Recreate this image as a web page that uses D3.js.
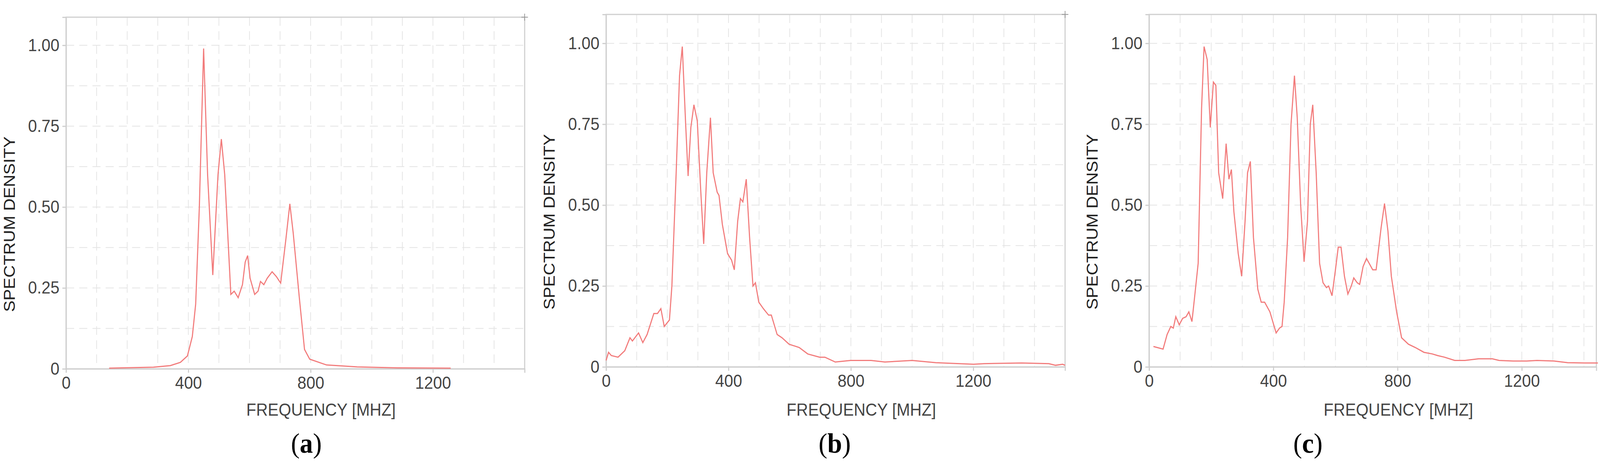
<!DOCTYPE html>
<html><head><meta charset="utf-8">
<script src="https://cdn.jsdelivr.net/npm/d3@7"></script>
<style>html,body{margin:0;padding:0;overflow:hidden;background:#fff}svg{display:block;width:100vw;height:100vh}</style>
</head><body>
<svg id="chart" viewBox="0 0 4361 1217" preserveAspectRatio="none"></svg>
<script>
// [MHz, density] pairs
const seriesA = [[141,0.002],[286,0.005],[341,0.01],[374,0.02],[397,0.04],[413,0.1],[424,0.2],[436,0.5],[450,0.99],[463,0.6],[480,0.29],[497,0.6],[508,0.71],[519,0.6],[539,0.23],[550,0.24],[563,0.22],[577,0.26],[586,0.33],[594,0.35],[602,0.28],[617,0.23],[628,0.24],[636,0.27],[647,0.26],[658,0.28],[674,0.3],[688,0.285],[702,0.265],[719,0.4],[732,0.51],[743,0.42],[763,0.22],[780,0.06],[797,0.03],[852,0.012],[952,0.006],[1086,0.003],[1258,0.002]];
const seriesB = [[0,0.02],[8,0.045],[17,0.035],[39,0.03],[61,0.05],[78,0.09],[86,0.08],[106,0.105],[120,0.075],[134,0.1],[156,0.165],[168,0.165],[179,0.18],[190,0.125],[207,0.145],[215,0.25],[229,0.6],[240,0.9],[249,0.99],[260,0.75],[268,0.59],[277,0.74],[287,0.81],[298,0.76],[309,0.55],[319,0.38],[329,0.6],[341,0.77],[350,0.6],[363,0.54],[369,0.53],[380,0.44],[397,0.35],[410,0.33],[419,0.3],[430,0.45],[439,0.52],[447,0.51],[458,0.58],[469,0.4],[480,0.25],[488,0.26],[499,0.2],[514,0.18],[531,0.16],[540,0.16],[559,0.1],[575,0.09],[598,0.07],[631,0.06],[659,0.04],[698,0.03],[715,0.03],[749,0.015],[799,0.02],[866,0.02],[911,0.015],[1000,0.02],[1078,0.013],[1201,0.008],[1235,0.01],[1358,0.012],[1447,0.01],[1469,0.005],[1492,0.008],[1500,0.005]];
const seriesC = [[14,0.063],[45,0.055],[58,0.1],[70,0.125],[78,0.12],[86,0.155],[97,0.13],[108,0.15],[119,0.155],[128,0.17],[138,0.14],[147,0.22],[158,0.32],[169,0.8],[177,0.99],[187,0.95],[197,0.74],[207,0.88],[215,0.87],[224,0.6],[237,0.52],[248,0.69],[257,0.58],[265,0.61],[273,0.48],[287,0.35],[298,0.28],[309,0.45],[317,0.6],[326,0.635],[336,0.4],[350,0.24],[361,0.2],[372,0.2],[389,0.17],[409,0.105],[420,0.12],[428,0.125],[435,0.2],[446,0.4],[457,0.75],[468,0.9],[477,0.77],[488,0.5],[499,0.325],[510,0.45],[519,0.75],[527,0.81],[538,0.6],[549,0.32],[560,0.26],[571,0.245],[578,0.25],[589,0.22],[600,0.3],[609,0.37],[618,0.37],[629,0.28],[640,0.225],[651,0.25],[659,0.275],[670,0.26],[678,0.255],[689,0.31],[700,0.335],[720,0.3],[731,0.3],[747,0.43],[758,0.505],[769,0.42],[780,0.28],[797,0.17],[813,0.09],[835,0.07],[857,0.06],[885,0.045],[912,0.04],[929,0.035],[951,0.03],[984,0.02],[1017,0.02],[1061,0.025],[1105,0.025],[1127,0.02],[1172,0.018],[1216,0.018],[1249,0.02],[1304,0.018],[1348,0.013],[1403,0.012],[1445,0.012]];
const xTicks = [0, 400, 800, 1200];
const yTicks = [0, 0.25, 0.5, 0.75, 1];
const panelLabels = ["a", "b", "c"];

const panels = [
  {data: seriesA, left: 180, right: 1430, top: 44, bottom: 945, xMax: 1500, cross: true, labelX: 835},
  {data: seriesB, left: 1652, right: 2903, top: 37, bottom: 940, xMax: 1500, cross: true, labelX: 2275},
  {data: seriesC, left: 3132, right: 4351, top: 37, bottom: 940, xMax: 1440, cross: false, labelX: 3565}
];

const svg = d3.select("#chart");
const font = "Liberation Sans, Arial, sans-serif";

panels.forEach((p, i) => {
  const x = d3.scaleLinear().domain([0, p.xMax]).range([p.left, p.right]);
  const yMax = (p.bottom - p.top) / 829;
  const y = d3.scaleLinear().domain([0, yMax]).range([p.bottom, p.top]);
  const g = svg.append("g");

  // dashed grid
  g.append("g").selectAll("line").data(d3.range(100, p.xMax, 100)).join("line")
    .attr("x1", d => x(d)).attr("x2", d => x(d)).attr("y1", p.top).attr("y2", p.bottom)
    .attr("stroke", "#e4e4e4").attr("stroke-width", 2).attr("stroke-dasharray", "22,14");
  g.append("g").selectAll("line").data(d3.range(0.125, yMax, 0.125)).join("line")
    .attr("x1", p.left).attr("x2", p.right).attr("y1", d => y(d)).attr("y2", d => y(d))
    .attr("stroke", "#e4e4e4").attr("stroke-width", 2).attr("stroke-dasharray", "22,14");

  g.append("rect").attr("x", p.left).attr("y", p.top)
    .attr("width", p.right - p.left).attr("height", p.bottom - p.top)
    .attr("fill", "none").attr("stroke", "#cfcfcf").attr("stroke-width", 3);
  if (p.cross) {
    g.append("path").attr("d", `M${p.right - 9},${p.top}H${p.right + 9}M${p.right},${p.top - 9}V${p.top + 9}`)
      .attr("stroke", "#999").attr("stroke-width", 2);
  }

  const xAxis = g.append("g").attr("transform", `translate(0,${p.bottom})`)
    .call(d3.axisBottom(x).tickValues(xTicks).tickSize(10).tickPadding(10).tickFormat(d3.format("d")));
  const yAxis = g.append("g").attr("transform", `translate(${p.left},0)`)
    .call(d3.axisLeft(y).tickValues(yTicks).tickSize(10).tickPadding(8)
      .tickFormat(d => d === 0 ? "0" : d3.format(".2f")(d)));
  [xAxis, yAxis].forEach(a => {
    a.select(".domain").attr("stroke", "#cfcfcf").attr("stroke-width", 3);
    a.selectAll(".tick line").attr("stroke", "#cfcfcf").attr("stroke-width", 3);
    a.selectAll("text").attr("fill", "#444").style("font-size", "44px").style("font-family", font);
  });

  g.append("path").datum(p.data)
    .attr("d", d3.line().x(d => x(d[0])).y(d => y(d[1])))
    .attr("fill", "none").attr("stroke", "#f27b7b").attr("stroke-width", 3);

  g.append("text").attr("x", (p.left + p.right) / 2 + 70).attr("y", 1065)
    .attr("text-anchor", "middle").attr("fill", "#444")
    .style("font-size", "44px").style("font-family", font).text("FREQUENCY [MHZ]");
  g.append("text").attr("transform", `translate(${p.left - 140},${(p.top + p.bottom) / 2 + 80}) rotate(-90)`)
    .attr("text-anchor", "middle").attr("fill", "#222")
    .style("font-size", "44px").style("font-family", font).text("SPECTRUM DENSITY");

  const lab = g.append("text").attr("x", p.labelX).attr("y", 1160).attr("text-anchor", "middle")
    .style("font-size", "72px").style("font-family", "Liberation Serif, Times New Roman, serif");
  lab.append("tspan").text("(");
  lab.append("tspan").attr("font-weight", "bold").text(panelLabels[i]);
  lab.append("tspan").text(")");
});
</script>
</body></html>
